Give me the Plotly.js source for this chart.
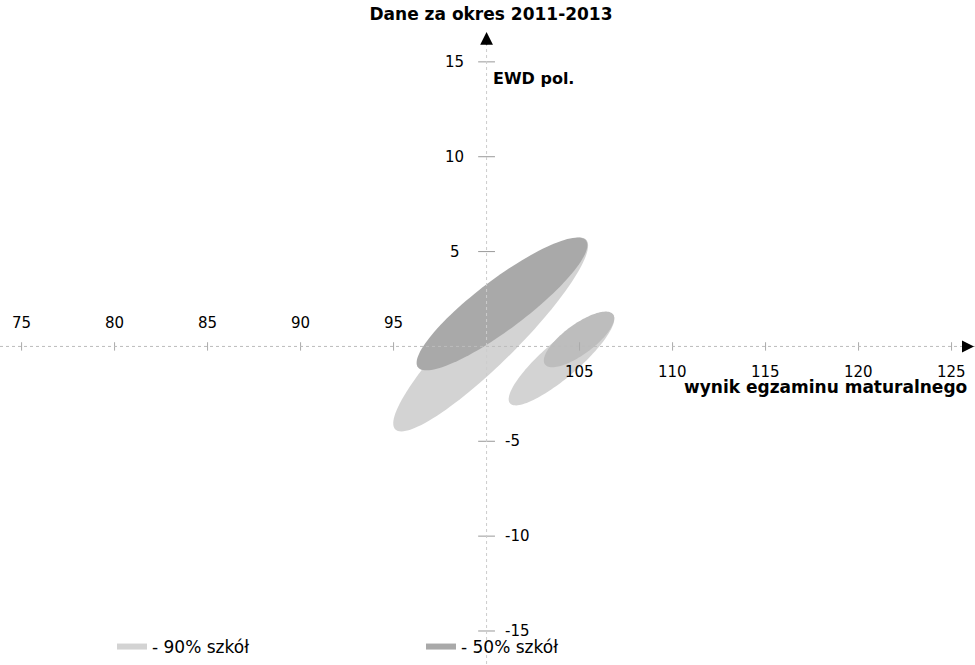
<!DOCTYPE html>
<html>
<head>
<meta charset="utf-8">
<script src="https://cdn.plot.ly/plotly-3.0.1.min.js"></script>
<style>html,body{margin:0;padding:0;background:#fff;}#chart{width:975px;height:665px;}</style>
</head>
<body>
<div id="chart"></div>
<script>
// ---- data ----
const titleText = "Dane za okres 2011-2013";
const xTitle = "wynik egzaminu maturalnego";
const yTitle = "EWD pol.";
const seriesNames = ["- 90% szkół", "- 50% szkół"];
// ellipses: centre, half major axis vector, half minor axis vector (data units)
const ellGroup = [0, 1, 0, 1];            // 0 = 90% szkół, 1 = 50% szkół
const ellCX = [100.22, 100.83, 104.03, 104.97];
const ellCY = [0.63, 2.24, -0.66, 0.37];
const ellAX = [5.13, 4.52, 2.77, 1.83];
const ellAY = [5.00, 3.34, 2.34, 1.32];
const ellBX = [1.06, 0.81, 0.63, 0.48];
const ellBY = [-1.05, -1.05, -0.72, -0.64];
const xTickVals = [75, 80, 85, 90, 95, 105, 110, 115, 120, 125];
const yTickVals = [15, 10, 5, -5, -10, -15];
const originX = 100, originY = 0;
const xRange = [73.84, 126.26];
const yRange = [-16.74, 16.68];

// ---- styles ----
const fillColors = ["#d3d3d3", "#a9a9a9", "#d3d3d3", "#bdbdbd"];
const font = "DejaVu Sans, Verdana, sans-serif";

const traces = [];
for (let i = 0; i < ellCX.length; i++) {
  const xs = [], ys = [];
  const N = 120;
  for (let k = 0; k <= N; k++) {
    const t = 2 * Math.PI * k / N;
    xs.push(ellCX[i] + ellAX[i] * Math.cos(t) + ellBX[i] * Math.sin(t));
    ys.push(ellCY[i] + ellAY[i] * Math.cos(t) + ellBY[i] * Math.sin(t));
  }
  const g = ellGroup[i];
  traces.push({
    type: "scatter", mode: "none", x: xs, y: ys,
    fill: "toself", fillcolor: fillColors[i],
    name: seriesNames[g], legendgroup: "g" + g,
    showlegend: (i === g), hoverinfo: "skip"
  });
}
// tick marks on the crossing axes
traces.push({
  type: "scatter", mode: "markers", x: xTickVals, y: xTickVals.map(() => originY),
  marker: {symbol: "line-ns", size: 6, line: {width: 1, color: "#aaa"}},
  showlegend: false, hoverinfo: "skip"
});
traces.push({
  type: "scatter", mode: "markers", x: yTickVals.map(() => originX), y: yTickVals,
  marker: {symbol: "line-ew", size: 12, line: {width: 1, color: "#999"}},
  showlegend: false, hoverinfo: "skip"
});

const annotations = [];
xTickVals.forEach(v => {
  annotations.push({
    x: v, y: originY, xref: "x", yref: "y", text: String(v), showarrow: false,
    xanchor: "center", yanchor: "middle", yshift: v < originX ? 23 : -26,
    font: {family: font, size: 15, color: "#000"}
  });
});
yTickVals.forEach(v => {
  annotations.push({
    x: originX, y: v, xref: "x", yref: "y", text: String(v), showarrow: false,
    xanchor: v > 0 ? "center" : "left", yanchor: "middle",
    xshift: v > 0 ? -32 : 16,
    font: {family: font, size: 15, color: "#000"}
  });
});
annotations.push({
  x: originX, y: 15, xref: "x", yref: "y", text: "<b>" + yTitle + "</b>", showarrow: false,
  xanchor: "left", yanchor: "middle", xshift: 4, yshift: -17,
  font: {family: font, size: 16, color: "#000"}
});
annotations.push({
  x: 969 / 975, y: originY, xref: "paper", yref: "y", text: "<b>" + xTitle + "</b>", showarrow: false,
  xanchor: "right", yanchor: "middle", yshift: -41,
  font: {family: font, size: 17, color: "#000"}
});
// axis arrows
annotations.push({
  x: originX, y: 16.58, xref: "x", yref: "y", text: "", showarrow: true,
  ax: 0, ay: 14, arrowhead: 2, arrowsize: 1.6, arrowwidth: 1.6, arrowcolor: "#000"
});
annotations.push({
  x: 1.004, y: originY, xref: "paper", yref: "y", text: "", showarrow: true,
  ax: -12, ay: 0, arrowhead: 2, arrowsize: 1.5, arrowwidth: 1.6, arrowcolor: "#000"
});

const layout = {
  width: 975, height: 665,
  margin: {l: 0, r: 0, t: 30, b: 0},
  paper_bgcolor: "#fff", plot_bgcolor: "#fff",
  title: {text: "<b>" + titleText + "</b>", x: 491 / 975, xanchor: "center", y: 0.979, yanchor: "middle",
          font: {family: font, size: 17, color: "#000"}},
  xaxis: {range: xRange, showgrid: false, zeroline: false, showticklabels: false, ticks: "", showline: false, fixedrange: true},
  yaxis: {range: yRange, showgrid: false, zeroline: false, showticklabels: false, ticks: "", showline: false, fixedrange: true},
  shapes: [
    {type: "line", xref: "paper", x0: 0, x1: 1, yref: "y", y0: originY, y1: originY,
     line: {color: "#bbb", width: 1, dash: "dot"}, layer: "above"},
    {type: "line", xref: "x", x0: originX, x1: originX, yref: "paper", y0: 0, y1: 0.985,
     line: {color: "#ccc", width: 1, dash: "dot"}, layer: "above"}
  ],
  annotations: annotations,
  showlegend: true,
  legend: {orientation: "h", x: 112 / 975, xanchor: "left", y: 17 / 635, yanchor: "middle",
           entrywidthmode: "pixels", entrywidth: 264, bgcolor: "rgba(0,0,0,0)",
           font: {family: font, size: 17, color: "#000"}, traceorder: "normal"}
};

Plotly.newPlot("chart", traces, layout, {displayModeBar: false, staticPlot: true});
</script>
</body>
</html>
